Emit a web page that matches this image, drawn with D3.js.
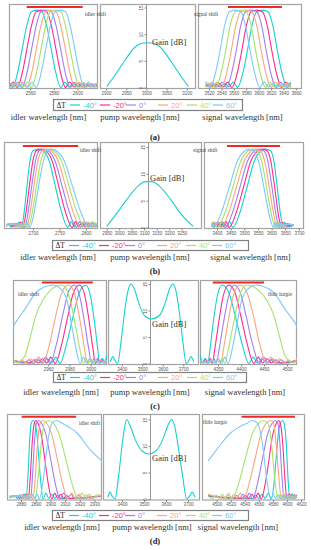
<!DOCTYPE html>
<meta charset="utf-8">
<script src="https://d3js.org/d3.v7.min.js"></script>
<style>
body { margin: 0; background: #fff; }
.frame { fill: none; stroke: #a3a3a3; stroke-width: 1.2px; }
.axis path { display: none; }
.axis line { stroke: #888; }
.axis text { font-family: "Liberation Sans", Arial, sans-serif; font-size: 4.5px; fill: #555; }
.title { font-family: "Liberation Serif", serif; font-size: 8.5px; fill: #333; text-anchor: middle; }
.tag { font-family: "Liberation Serif", serif; font-size: 8.5px; font-weight: bold; fill: #222; text-anchor: middle; }
.gain { font-family: "Liberation Serif", serif; font-size: 8.5px; fill: #333; }
.shift { font-family: "Liberation Serif", serif; font-size: 5.5px; fill: #444; }
.lg-label { font-family: "Liberation Sans", Arial, sans-serif; font-size: 7.5px; }
.lg-head { font-family: "Liberation Serif", serif; font-size: 7.5px; fill: #222; }
</style>
<body>
<script>

// ---- data ----------------------------------------------------------

var dTLabels = ["-40°", "-20°", "0°", "20°", "40°", "60°"];
var gainTicks = [0, 5, 10, 15];

// (a)
var idlerTicksA = [2560, 2580, 2600];
var pumpTicksA = [2900, 2950, 3000, 3050, 3100];
var signalTicksA = [3520, 3540, 3560, 3580, 3600, 3620, 3640, 3660];
var idlerShiftA = [2557, 2604.5];
var signalShiftA = [3550.5, 3637.5];
var pumpA = [[2902,0.2],[2922,2.3],[2947,5.1],[2972,7.6],[2990,8.3],[3003,8.4],[3016,8.3],[3034,7.6],[3059,5.1],[3084,2.3],[3104,0.2]];
var idlerA = [
  [[2540,0.6],[2541.5,1.0],[2545,0],[2549,2.5],[2553,7],[2557,11.5],[2561,14.2],[2565.5,14.5],[2570,14.2],[2574,11.5],[2578,7],[2582,2.5],[2586,0],[2589.5,1.0],[2593,0.1],[2596.5,0.8],[2600,0.1],[2603.5,0.7],[2607,0.1],[2610.5,0.6],[2614,0.1],[2618,0.6]],
  [[2540,0.5],[2542,0.1],[2545.5,1.0],[2549,0],[2553,2.5],[2557,7],[2561,11.5],[2565,14.2],[2569.5,14.5],[2574,14.2],[2578,11.5],[2582,7],[2586,2.5],[2590,0],[2593.5,1.0],[2597,0.1],[2600.5,0.8],[2604,0.1],[2607.5,0.7],[2611,0.1],[2614.5,0.6],[2618,0.1]],
  [[2540,0.3],[2542.5,0.8],[2546,0.1],[2549.5,1.0],[2553,0],[2557,2.5],[2561,7],[2565,11.5],[2569,14.2],[2573.5,14.5],[2578,14.2],[2582,11.5],[2586,7],[2590,2.5],[2594,0],[2597.5,1.0],[2601,0.1],[2604.5,0.8],[2608,0.1],[2611.5,0.7],[2615,0.1],[2618.5,0.6]],
  [[2540,0.6],[2543,0.1],[2546.5,0.8],[2550,0.1],[2553.5,1.0],[2557,0],[2561,2.5],[2565,7],[2569,11.5],[2573,14.2],[2577.5,14.5],[2582,14.2],[2586,11.5],[2590,7],[2594,2.5],[2598,0],[2601.5,1.0],[2605,0.1],[2608.5,0.8],[2612,0.1],[2615.5,0.7],[2618.5,0.2]],
  [[2540,0.1],[2543.5,0.7],[2547,0.1],[2550.5,0.8],[2554,0.1],[2557.5,1.0],[2561,0],[2565,2.5],[2569,7],[2573,11.5],[2577,14.2],[2581.5,14.5],[2586,14.2],[2590,11.5],[2594,7],[2598,2.5],[2602,0],[2605.5,1.0],[2609,0.1],[2612.5,0.8],[2616,0.1],[2618.5,0.6]],
  [[2540.5,0.6],[2544,0.1],[2547.5,0.7],[2551,0.1],[2554.5,0.8],[2558,0.1],[2561.5,1.0],[2565,0],[2569,2.5],[2573,7],[2577,11.5],[2581,14.2],[2585.5,14.5],[2590,14.2],[2594,11.5],[2598,7],[2602,2.5],[2606,0],[2609.5,1.0],[2613,0.1],[2616.5,0.8],[2619,0.3]]
];
var signalA = [
  [[3514,0.3],[3517,0.6],[3524,0.1],[3531,0.7],[3538,0.1],[3545,0.8],[3552,0.1],[3559,1.0],[3566,0],[3574,2.5],[3582,7],[3589,11.5],[3597,14.2],[3606,14.5],[3615,14.2],[3623,11.5],[3630,7],[3638,2.5],[3646,0],[3652,1.0]],
  [[3515,0.1],[3522,0.7],[3529,0.1],[3536,0.8],[3543,0.1],[3550,1.0],[3557,0],[3565,2.5],[3573,7],[3580,11.5],[3588,14.2],[3597,14.5],[3606,14.2],[3614,11.5],[3621,7],[3629,2.5],[3637,0],[3644,1.0],[3651,0.1],[3652,0.2]],
  [[3514,0.6],[3520,0.1],[3527,0.8],[3534,0.1],[3541,1.0],[3548,0],[3556,2.5],[3564,7],[3571,11.5],[3579,14.2],[3588,14.5],[3597,14.2],[3605,11.5],[3612,7],[3620,2.5],[3628,0],[3635,1.0],[3642,0.1],[3649,0.8],[3652,0.5]],
  [[3514,0.3],[3519,0.8],[3526,0.1],[3533,1.0],[3540,0],[3548,2.5],[3556,7],[3563,11.5],[3571,14.2],[3580,14.5],[3589,14.2],[3597,11.5],[3604,7],[3612,2.5],[3620,0],[3627,1.0],[3634,0.1],[3641,0.8],[3648,0.1],[3652,0.5]],
  [[3514,0.5],[3517,0.1],[3524,1.0],[3531,0],[3539,2.5],[3547,7],[3554,11.5],[3562,14.2],[3571,14.5],[3580,14.2],[3588,11.5],[3595,7],[3603,2.5],[3611,0],[3618,1.0],[3625,0.1],[3632,0.8],[3639,0.1],[3646,0.7],[3652,0.1]],
  [[3514,0.8],[3515,1.0],[3522,0],[3530,2.5],[3538,7],[3545,11.5],[3553,14.2],[3562,14.5],[3571,14.2],[3579,11.5],[3586,7],[3594,2.5],[3602,0],[3609,1.0],[3616,0.1],[3623,0.8],[3630,0.1],[3637,0.7],[3644,0.1],[3651,0.6]]
];

// (b)
var idlerTicksB = [2700, 2750, 2800];
var pumpTicksB = [2950, 3000, 3050, 3100, 3150, 3200, 3250];
var signalTicksB = [3400, 3450, 3500, 3550, 3600, 3650, 3700];
var idlerShiftB = [2681, 2785];
var signalShiftB = [3436.5, 3631];
var pumpB = [[2950,0.2],[2985,2.3],[3030,5.2],[3075,7.7],[3100,8.5],[3118,8.6],[3136,8.5],[3161,7.7],[3206,5.2],[3251,2.3],[3296,0.2]];
var idlerB = [
  [[2650,0.4],[2653,0.7],[2658,0.1],[2663,0.8],[2668,0.1],[2673,1.0],[2678,0],[2683.5,3],[2689,8],[2694.5,12.5],[2700,14.3],[2709.5,14.6],[2719,14.3],[2731,12.3],[2742.5,7.5],[2754,2.8],[2766,0],[2772,1.1],[2778,0.1],[2784,0.9],[2790,0.1],[2796,0.8],[2802,0.1],[2808,0.7],[2814,0.1],[2820,0.6]],
  [[2650,0.2],[2656,0.7],[2661,0.1],[2666,0.8],[2671,0.1],[2676,1.0],[2681,0],[2687,3],[2693.5,8],[2700,12.5],[2706,14.3],[2715,14.6],[2724,14.3],[2736.5,12.3],[2749,7.5],[2761.5,2.8],[2774,0],[2780,1.1],[2786,0.1],[2792,0.9],[2798,0.1],[2804,0.8],[2810,0.1],[2816,0.7],[2820,0.4]],
  [[2650,0.3],[2659.5,0.7],[2664.5,0.1],[2669.5,0.8],[2674.5,0.1],[2679.5,1.0],[2684.5,0],[2691,3],[2698,8],[2705,12.5],[2711.5,14.3],[2720,14.6],[2729,14.3],[2742,12.3],[2755.5,7.5],[2769,2.8],[2782,0],[2788,1.1],[2794,0.1],[2800,0.9],[2806,0.1],[2812,0.8],[2818,0.1],[2820,0.3]],
  [[2650,0.5],[2662.5,0.7],[2667.5,0.1],[2672.5,0.8],[2677.5,0.1],[2682.5,1.0],[2687.5,0],[2695,3],[2702,8],[2709.5,12.5],[2717,14.3],[2725.5,14.6],[2734,14.3],[2748,12.3],[2762,7.5],[2776,2.8],[2790,0],[2796,1.1],[2802,0.1],[2808,0.9],[2814,0.1],[2820,0.8]],
  [[2650,0.4],[2666,0.7],[2671,0.1],[2676,0.8],[2681,0.1],[2686,1.0],[2691,0],[2699,3],[2707,8],[2715,12.5],[2723,14.3],[2731,14.6],[2739,14.3],[2754,12.3],[2768.5,7.5],[2783,2.8],[2798,0],[2804,1.1],[2810,0.1],[2816,0.9],[2820,0.5]],
  [[2650,0.6],[2669,0.7],[2674,0.1],[2679,0.8],[2684,0.1],[2689,1.0],[2694,0],[2702.5,3],[2711,8],[2720,12.5],[2728.5,14.3],[2736,14.6],[2744,14.3],[2759.5,12.3],[2775,7.5],[2790.5,2.8],[2806,0],[2812,1.1],[2818,0.1],[2820,0.3]]
];
var signalB = [
  [[3380,0.7],[3392,0.1],[3403,0.8],[3414,0.1],[3425,0.9],[3436,0.1],[3447,1.1],[3458,0],[3484,2.8],[3510,7.5],[3536,12.3],[3562,14.3],[3579,14.6],[3596,14.3],[3608,12.5],[3619.5,8],[3631,3],[3643,0],[3648,1.0],[3653,0.1],[3658,0.8],[3663,0.1],[3668,0.7],[3673,0.1],[3678,0.6],[3680,0.5]],
  [[3380,0.2],[3389,0.8],[3400,0.1],[3411,0.9],[3422,0.1],[3433,1.1],[3444,0],[3470.5,2.8],[3497,7.5],[3523.5,12.3],[3550,14.3],[3567,14.6],[3583.5,14.3],[3596.5,12.5],[3610,8],[3623,3],[3636,0],[3641,1.0],[3646,0.1],[3651,0.8],[3656,0.1],[3661,0.7],[3666,0.1],[3671,0.6],[3680,0.3]],
  [[3380,0.5],[3386,0.1],[3397,0.9],[3408,0.1],[3419,1.1],[3430,0],[3457,2.8],[3484,7.5],[3511,12.3],[3538.5,14.3],[3555,14.6],[3571,14.3],[3585.5,12.5],[3600,8],[3614,3],[3628.5,0],[3633.5,1.0],[3638.5,0.1],[3643.5,0.8],[3648.5,0.1],[3653.5,0.7],[3658.5,0.1],[3663.5,0.6],[3680,0.4]],
  [[3380,0.8],[3382,0.9],[3393,0.1],[3404,1.1],[3415,0],[3443,2.8],[3471,7.5],[3499,12.3],[3527,14.3],[3542.5,14.6],[3558,14.3],[3574,12.5],[3590,8],[3605.5,3],[3621.5,0],[3626.5,1.0],[3631.5,0.1],[3636.5,0.8],[3641.5,0.1],[3646.5,0.7],[3651.5,0.1],[3656.5,0.6],[3680,0.5]],
  [[3380,0.2],[3390,1.1],[3401,0],[3429.5,2.8],[3458,7.5],[3486.5,12.3],[3515,14.3],[3530.5,14.6],[3546,14.3],[3563,12.5],[3580,8],[3597,3],[3614,0],[3619,1.0],[3624,0.1],[3629,0.8],[3634,0.1],[3639,0.7],[3644,0.1],[3649,0.6],[3680,0.5]],
  [[3380,0.9],[3387,0],[3416,2.8],[3445,7.5],[3474,12.3],[3503,14.3],[3518,14.6],[3533,14.3],[3551.5,12.5],[3570,8],[3588.5,3],[3607,0],[3612,1.0],[3617,0.1],[3622,0.8],[3627,0.1],[3632,0.7],[3637,0.1],[3642,0.6],[3680,0.5]]
];

// (c)
var idlerTicksC = [2960, 2980, 3000];
var pumpTicksC = [3400, 3500, 3600, 3700];
var signalTicksC = [4350, 4400, 4450, 4500];
var idlerShiftC = [2954, 3002];
var signalShiftC = [4338.5, 4450];
var pumpC = [[3343,0.3],[3350,0.9],[3357,1.3],[3368,0.5],[3380,0],[3398,4.5],[3415,10],[3430,13.6],[3445,15],[3462,14],[3485,11.2],[3510,9.1],[3547,8.4],[3585,9.1],[3610,11.2],[3633,14],[3650,15],[3665,13.6],[3680,10],[3697,4.5],[3715,0],[3727,0.5],[3738,1.3],[3745,0.9],[3752,0.3]];
var idlerC = [
  [[2927,0.5],[2947,0.1],[2951,0.7],[2955,0.1],[2959,0.9],[2963,0.1],[2967,1.2],[2971,0],[2977,3.5],[2983.5,9],[2989.5,13.5],[2995.5,14.8],[3000,12.5],[3003.5,8],[3006.5,3],[3008.5,0],[3011,1.0],[3013,0.3],[3015.5,1.7]],
  [[2927,0.6],[2942.5,0.1],[2946.5,0.7],[2950.5,0.1],[2954.5,0.9],[2958.5,0.1],[2962.5,1.2],[2966.5,0],[2972.5,3.5],[2978.5,9],[2984,13.5],[2989.5,14.8],[2994.5,12.8],[2998.5,8],[3002,3],[3004.5,0],[3006.5,1.0],[3008.5,0.1],[3010.5,0.8],[3012.5,0.1],[3015.5,0.7]],
  [[2927,0.4],[2937.5,0.1],[2941.5,0.7],[2945.5,0.1],[2949.5,0.9],[2953.5,0.1],[2957.5,1.2],[2961.5,0],[2967.5,3.5],[2973.5,9],[2979,13.5],[2984.5,14.8],[2989.5,12.8],[2994,8],[2998,3],[3001,0],[3003,1.0],[3005,0.1],[3007,0.8],[3009,0.1],[3011,0.7],[3013,0.1],[3015.5,0.6]],
  [[2927,0.5],[2931,0.1],[2935,0.7],[2939,0.1],[2943,0.9],[2947,0.1],[2951,1.2],[2955,0],[2961,3.5],[2967,9],[2973,13.5],[2979,14.8],[2985,13],[2990,8],[2994,3],[2997,0],[2999.5,1.0],[3002,0.1],[3004.5,0.8],[3007,0.1],[3009.5,0.7],[3012,0.1],[3015.5,0.6]],
  [[2927,0.9],[2931,0.2],[2935,0.6],[2938,1.5],[2943,5],[2948.5,9.2],[2955,12],[2962,13.8],[2973,14.8],[2980,12.5],[2985.5,7.3],[2990,2.5],[2993,0],[2995.5,1.0],[2998,0.1],[3000.5,0.8],[3003,0.1],[3005.5,0.7],[3008,0.1],[3015.5,0.5]],
  [[2927,7.0],[2932,8.6],[2938.5,10.4],[2944,12.2],[2949.5,13.6],[2957,14.5],[2964.5,14.8],[2971,14.2],[2977,12.4],[2982,7.3],[2986,3],[2990,0],[2993,1.2],[2996,0.1],[2999,0.9],[3002,0.1],[3005,0.7],[3008,0.1],[3015.5,0.5]]
];
var signalC = [
  [[4311,1.7],[4316.5,0.3],[4322,1.0],[4328,0],[4333,3],[4340,8],[4348,12.5],[4359,14.8],[4373,13.5],[4387.5,9],[4403,3.5],[4417,0],[4426.5,1.2],[4436,0.1],[4446,0.9],[4455,0.1],[4465,0.7],[4474,0.1],[4522,0.5]],
  [[4311,0.7],[4318.5,0.1],[4323.5,0.8],[4328,0.1],[4333,1.0],[4337.5,0],[4343.5,3],[4352,8],[4361.5,12.8],[4373.5,14.8],[4386.5,13.5],[4399.5,9],[4414,3.5],[4428,0],[4437.5,1.2],[4447,0.1],[4456.5,0.9],[4466,0.1],[4475.5,0.7],[4485,0.1],[4522,0.6]],
  [[4311,0.6],[4317.5,0.1],[4322,0.7],[4327,0.1],[4331.5,0.8],[4336.5,0.1],[4341,1.0],[4346,0],[4353,3],[4362.5,8],[4373.5,12.8],[4385,14.8],[4398,13.5],[4411,9],[4425.5,3.5],[4440,0],[4449.5,1.2],[4459,0.1],[4468.5,0.9],[4478,0.1],[4487.5,0.7],[4497,0.1],[4522,0.4]],
  [[4311,0.6],[4320,0.1],[4325.5,0.7],[4331.5,0.1],[4337.5,0.8],[4343.5,0.1],[4349.5,1.0],[4355.5,0],[4362.5,3],[4372,8],[4384,13],[4398,14.8],[4412.5,13.5],[4427,9],[4441,3.5],[4455.5,0],[4465,1.2],[4474.5,0.1],[4484,0.9],[4493.5,0.1],[4503,0.7],[4512.5,0.1],[4522,0.5]],
  [[4311,0.5],[4329.5,0.1],[4335,0.7],[4341,0.1],[4347,0.8],[4353,0.1],[4359,1.0],[4365,0],[4372,2.5],[4383,7.3],[4396,12.5],[4412.5,14.8],[4438.5,13.8],[4455.5,12],[4471,9.2],[4484,5],[4495.5,1.5],[4503,0.6],[4512.5,0.2],[4522,0.9]],
  [[4311,0.5],[4329.5,0.1],[4336.5,0.7],[4343.5,0.1],[4350.5,0.9],[4358,0.1],[4365,1.2],[4372,0],[4381.5,3],[4391,7.3],[4403,12.4],[4417,14.2],[4432.5,14.8],[4450.5,14.5],[4468.5,13.6],[4481.5,12.2],[4494.5,10.4],[4510,8.6],[4522,7.0]]
];

// (d)
var idlerTicksD = [2880, 2890, 2900, 2910, 2920, 2930];
var pumpTicksD = [3400, 3500, 3600, 3700];
var signalTicksD = [4500, 4520, 4540, 4560, 4580, 4600, 4620];
var idlerShiftD = [2880.5, 2917.5];
var signalShiftD = [4535.5, 4611.5];
var pumpD = [[3335,0.3],[3340,0.9],[3345,1.3],[3356,0.5],[3368,0],[3385,4.5],[3400,10],[3412,13.6],[3421,15],[3435,14],[3460,11.2],[3490,9.1],[3522,8.5],[3555,9.1],[3585,11.2],[3610,14],[3626,15],[3640,13.6],[3655,10],[3675,4.5],[3694,0],[3706,0.5],[3719,1.3],[3726,0.9],[3732,0.3]];
var idlerD = [
  [[2872,0.4],[2876,0.6],[2877.5,0.1],[2879,0.8],[2880.5,0.1],[2882,1.0],[2883.5,0],[2884.7,4],[2885.8,10.5],[2887,14.3],[2888.2,14.8],[2889.5,14.3],[2890.9,12],[2892.2,7.5],[2893.6,2.8],[2895,0],[2897,1.1],[2899,0.1],[2901,0.9],[2903,0.1],[2905,0.7],[2907,0.1],[2935,0.5]],
  [[2872,0.3],[2877.5,0.6],[2879,0.1],[2880.5,0.8],[2882,0.1],[2883.5,1.0],[2885,0],[2886.3,4],[2887.6,10.5],[2889,14.3],[2890.2,14.8],[2891.5,14.3],[2893.9,12],[2896.2,7.5],[2898.6,2.8],[2901,0],[2903,1.1],[2905,0.1],[2907,0.9],[2909,0.1],[2911,0.7],[2913,0.1],[2935,0.6]],
  [[2872,0.5],[2879,0.6],[2880.5,0.1],[2882,0.8],[2883.5,0.1],[2885,1.0],[2886.5,0],[2887.8,4],[2889.1,10.5],[2890.5,14.3],[2892.2,14.8],[2894,14.3],[2897.1,12],[2900.2,7.5],[2903.4,2.8],[2906.5,0],[2909,1.1],[2911.5,0.1],[2914,0.9],[2916.5,0.1],[2919,0.7],[2921.5,0.1],[2935,0.7]],
  [[2872,0.4],[2880.5,0.6],[2882,0.1],[2883.5,0.8],[2885,0.1],[2886.5,1.0],[2888,0],[2889.7,4],[2891.3,10.5],[2893,14.3],[2895.2,14.8],[2897.5,14.3],[2901.1,12],[2904.7,7.5],[2908.4,2.8],[2912,0],[2914.5,1.1],[2917,0.1],[2919.5,0.9],[2922,0.1],[2924.5,0.8],[2927,0.1],[2935,0.9]],
  [[2872,0.5],[2882,0.6],[2883.5,0.1],[2885,0.8],[2886.5,0.1],[2888,1.0],[2889.5,0],[2891.7,4],[2893.8,10.5],[2896,14.3],[2899,14.8],[2902,14.3],[2906.2,12],[2910.5,7.5],[2914.8,2.8],[2919,0],[2921.5,1.1],[2924,0.1],[2926.5,0.9],[2929,0.1],[2931.5,0.8],[2935,0.5]],
  [[2872,0.3],[2885,0.6],[2886.5,0.1],[2888,0.8],[2889.5,0.1],[2891,1.0],[2892.5,0],[2895.3,4],[2898.1,10.5],[2901,14.3],[2904.5,14.8],[2908,14.3],[2913,13.5],[2918,12.5],[2927,9.3],[2935,7.2]]
];
var signalD = [
  [[4488,0.5],[4551,0.1],[4555.5,0.7],[4560,0.1],[4564.5,0.9],[4569,0.1],[4573.5,1.1],[4578,0],[4581.5,2.8],[4584.5,7.5],[4587.5,12],[4590.5,14.3],[4593.5,14.8],[4596,14.3],[4599,10.5],[4601.5,4],[4604,0],[4607.4,1.0],[4610.8,0.1],[4614,0.8]],
  [[4488,0.6],[4536.5,0.1],[4541,0.7],[4545.5,0.1],[4550,0.9],[4554.5,0.1],[4559,1.1],[4563.5,0],[4569,2.8],[4574.5,7.5],[4579.5,12],[4585,14.3],[4588,14.8],[4590.5,14.3],[4594,10.5],[4597,4],[4600,0],[4603.4,1.0],[4606.8,0.1],[4610.2,0.8],[4614,0.2]],
  [[4488,0.7],[4524,0.1],[4528.5,0.7],[4533,0.1],[4537.5,0.9],[4542,0.1],[4546.5,1.1],[4551,0],[4558,2.8],[4565,7.5],[4572,12],[4579,14.3],[4583,14.8],[4587,14.3],[4590,10.5],[4593,4],[4596,0],[4599.4,1.0],[4602.8,0.1],[4606.2,0.8],[4609.6,0.1],[4614,0.6]],
  [[4488,0.9],[4511,0.1],[4515.5,0.8],[4520,0.1],[4524.5,0.9],[4529,0.1],[4533.5,1.1],[4538,0],[4546,2.8],[4554.5,7.5],[4562.5,12],[4570.5,14.3],[4576,14.8],[4581,14.3],[4584.5,10.5],[4588.5,4],[4592,0],[4595.4,1.0],[4598.8,0.1],[4602.2,0.8],[4605.6,0.1],[4609,0.6],[4612.4,0.1],[4614,0.4]],
  [[4488,0.5],[4494.5,0.1],[4499,0.8],[4503.5,0.1],[4508,0.9],[4512.5,0.1],[4517,1.1],[4521.5,0],[4531,2.8],[4540.5,7.5],[4550,12],[4559.5,14.3],[4566.5,14.8],[4573,14.3],[4578,10.5],[4582.5,4],[4587.5,0],[4590.9,1.0],[4594.3,0.1],[4597.7,0.8],[4601.1,0.1],[4604.5,0.6],[4607.9,0.1],[4611.3,0.6],[4614,0.3]],
  [[4488,7.2],[4500,9.3],[4520,12.5],[4531,13.5],[4543,14.3],[4550.5,14.8],[4558,14.3],[4565,10.5],[4571,4],[4577,0],[4580.4,1.0],[4583.8,0.1],[4587.2,0.8],[4590.6,0.1],[4594,0.6],[4597.4,0.1],[4600.8,0.6],[4604.2,0.1],[4614,0.4]]
];

// ---- styling / layout -----------------------------------------------

var colors = ["#17d0d0", "#ff2a8c", "#a07ff5", "#ffa47d", "#a6e36c", "#7ccaf9"];
var barColor = "#ee2a24";
var legendSlots = [17, 47, 73, 105, 134, 160];

var layouts = [
  { name: "a", top: 4, bottom: 88, y0: 87.5, y15: 7.5, barGain: 15.1,
    idler: [9, 98], idlerDom: [2542, 2617.5],
    pump: [100, 196], pumpDom: [2885, 3123], pumpAxis: 3000,
    signal: [198, 302], signalDom: [3502.3, 3669.8],
    legend: [53, 99, 189, 11], titleY: 120, titleX: [48.5, 140, 242.5], tagY: 140,
    gain: [152, 45], idlerShift: [85, 16], signalShift: [194, 16], mirror: false },
  { name: "b", top: 142, bottom: 228, y0: 227.5, y15: 147, barGain: 15.2,
    idler: [4, 98], idlerDom: [2645.3, 2822.6],
    pump: [100, 202], pumpDom: [2923.2, 3331.2], pumpAxis: 3115,
    signal: [204, 304], signalDom: [3352.4, 3718.7],
    legend: [52, 240, 196, 10], titleY: 260, titleX: [58, 150, 250.5], tagY: 274,
    gain: [150, 181], idlerShift: [80, 152], signalShift: [193, 152], mirror: false },
  { name: "c", top: 280, bottom: 364, y0: 363.5, y15: 284, barGain: 15.3,
    idler: [13, 107], idlerDom: [2926.7, 3015.4],
    pump: [108, 199], pumpDom: [3333.2, 3777], pumpAxis: 3540,
    signal: [200, 297], signalDom: [4310.9, 4521.7],
    legend: [53, 372, 193, 10], titleY: 395, titleX: [61, 150, 245], tagY: 409,
    gain: [152, 327], idlerShift: [18, 296], signalShift: [292, 296], mirror: true },
  { name: "d", top: 414, bottom: 499.5, y0: 499, y15: 419.5, barGain: 15.5,
    idler: [7, 102], idlerDom: [2870.5, 2935.1],
    pump: [103, 200], pumpDom: [3313.6, 3754.5], pumpAxis: 3527,
    signal: [202, 305], signalDom: [4479.1, 4625.7],
    legend: [52, 510, 196, 10], titleY: 530, titleX: [62, 152, 238], tagY: 544,
    gain: [152, 461], idlerShift: [79, 425], signalShift: [227, 424], mirror: true }
];

var panels = [
  { idler: idlerA, pump: pumpA, signal: signalA, idlerTicks: idlerTicksA, pumpTicks: pumpTicksA, signalTicks: signalTicksA, idlerBar: idlerShiftA, signalBar: signalShiftA },
  { idler: idlerB, pump: pumpB, signal: signalB, idlerTicks: idlerTicksB, pumpTicks: pumpTicksB, signalTicks: signalTicksB, idlerBar: idlerShiftB, signalBar: signalShiftB },
  { idler: idlerC, pump: pumpC, signal: signalC, idlerTicks: idlerTicksC, pumpTicks: pumpTicksC, signalTicks: signalTicksC, idlerBar: idlerShiftC, signalBar: signalShiftC },
  { idler: idlerD, pump: pumpD, signal: signalD, idlerTicks: idlerTicksD, pumpTicks: pumpTicksD, signalTicks: signalTicksD, idlerBar: idlerShiftD, signalBar: signalShiftD }
];

var svg = d3.select("body").append("svg")
    .attr("width", 311)
    .attr("height", 550);
var defs = svg.append("defs");

function drawPanel(L, D) {
  var y = d3.scaleLinear().domain([0, 15]).range([L.y0, L.y15]);

  var parts = [
    { box: L.idler, dom: L.idlerDom, ticks: D.idlerTicks, curves: D.idler, bar: D.idlerBar },
    { box: L.pump, dom: L.pumpDom, ticks: D.pumpTicks, curves: [D.pump], pump: true },
    { box: L.signal, dom: L.signalDom, ticks: D.signalTicks, curves: D.signal, bar: D.signalBar }
  ];

  parts.forEach(function(p, i) {
    var x = d3.scaleLinear().domain(p.dom).range(p.box);
    var clipId = "clip-" + L.name + i;

    defs.append("clipPath").attr("id", clipId)
      .append("rect")
        .attr("x", p.box[0]).attr("y", L.top)
        .attr("width", p.box[1] - p.box[0]).attr("height", L.bottom - L.top);

    svg.append("rect")
        .attr("class", "frame")
        .attr("x", p.box[0] + 0.5).attr("y", L.top + 0.5)
        .attr("width", p.box[1] - p.box[0] - 1).attr("height", L.bottom - L.top);

    svg.append("g")
        .attr("class", "axis")
        .attr("transform", "translate(0," + (L.bottom + 0.5) + ")")
        .call(d3.axisBottom(x).tickValues(p.ticks).tickSize(2).tickPadding(1).tickFormat(d3.format("d")));

    if (p.pump) {
      var ax = Math.round(x(L.pumpAxis)) + 0.5;
      svg.append("line")
          .attr("x1", ax).attr("x2", ax)
          .attr("y1", L.top).attr("y2", L.bottom)
          .attr("stroke", "#999");
      var yAxis = svg.append("g")
          .attr("class", "axis")
          .attr("transform", "translate(" + ax + ",0)")
          .call(d3.axisLeft(y).tickValues(gainTicks).tickSize(2).tickPadding(1));
      yAxis.selectAll("text")
          .attr("x", 0).attr("dy", 0)
          .attr("text-anchor", "middle")
          .attr("transform", "translate(-4,0) rotate(-90)");
    }

    var line = d3.line()
        .x(function(d) { return x(d[0]); })
        .y(function(d) { return y(d[1]); })
        .curve(d3.curveMonotoneX);

    svg.append("g")
        .attr("clip-path", "url(#" + clipId + ")")
      .selectAll("path")
      .data(p.curves).enter().append("path")
        .attr("d", line)
        .attr("fill", "none")
        .attr("stroke", function(d, k) { return colors[k]; })
        .attr("stroke-width", 1.1);

    if (p.bar) {
      svg.append("line")
          .attr("x1", x(p.bar[0])).attr("x2", x(p.bar[1]))
          .attr("y1", y(L.barGain)).attr("y2", y(L.barGain))
          .attr("stroke", barColor)
          .attr("stroke-width", 2);
    }
  });

  // labels inside the plots
  svg.append("text").attr("class", "gain")
      .attr("x", L.gain[0]).attr("y", L.gain[1]).text("Gain [dB]");
  svg.append("text").attr("class", "shift")
      .attr("x", L.idlerShift[0]).attr("y", L.idlerShift[1]).text("idler shift");
  if (L.mirror) {
    svg.append("text").attr("class", "shift")
        .attr("transform", "translate(" + L.signalShift[0] + "," + L.signalShift[1] + ") scale(-1,1)")
        .text("signal shift");
  } else {
    svg.append("text").attr("class", "shift")
        .attr("x", L.signalShift[0]).attr("y", L.signalShift[1]).text("signal shift");
  }

  // legend
  var lg = svg.append("g")
      .attr("transform", "translate(" + L.legend[0] + "," + L.legend[1] + ")");
  var lh = L.legend[3];
  lg.append("rect")
      .attr("x", 0.5).attr("y", 0.5)
      .attr("width", L.legend[2]).attr("height", lh)
      .attr("fill", "#fff").attr("stroke", "#808080").attr("stroke-width", 1.2);
  lg.append("text").attr("class", "lg-head")
      .attr("x", 3.5).attr("y", lh / 2 + 3.2).text("ΔT");
  dTLabels.forEach(function(t, k) {
    lg.append("line")
        .attr("x1", legendSlots[k]).attr("x2", legendSlots[k] + 10)
        .attr("y1", lh / 2 + 0.5).attr("y2", lh / 2 + 0.5)
        .attr("stroke", colors[k]).attr("stroke-width", 1.2);
    lg.append("text").attr("class", "lg-label")
        .attr("x", legendSlots[k] + 13).attr("y", lh / 2 + 3.2)
        .attr("fill", colors[k]).text(t);
  });

  // axis titles and panel tag
  var titles = ["idler wavelength [nm]", "pump wavelength [nm]", "signal wavelength [nm]"];
  titles.forEach(function(t, k) {
    svg.append("text").attr("class", "title")
        .attr("x", L.titleX[k]).attr("y", L.titleY).text(t);
  });
  svg.append("text").attr("class", "tag")
      .attr("x", 155).attr("y", L.tagY).text("(" + L.name + ")");
}

layouts.forEach(function(L, i) { drawPanel(L, panels[i]); });

</script>
</body>
